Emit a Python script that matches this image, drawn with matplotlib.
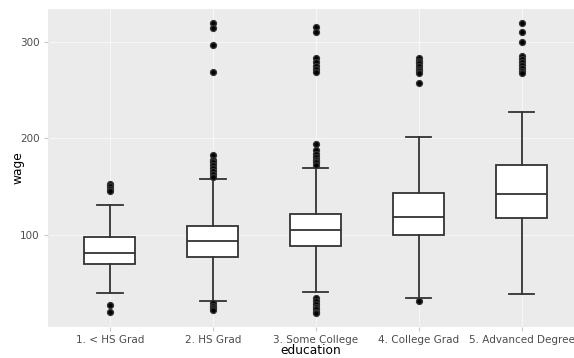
import numpy as np
import matplotlib.pyplot as plt

categories = ['1. < HS Grad', '2. HS Grad', '3. Some College', '4. College Grad', '5. Advanced Degree']

# box statistics
q1 = [70.0, 77.6, 89.0, 99.7, 117.3]
med = [81.0, 94.1, 105.2, 118.9, 142.1]
q3 = [97.6, 109.6, 121.4, 143.4, 172.1]
whislo = [40.0, 31.7, 41.4, 34.9, 38.7]
whishi = [131.0, 157.6, 169.6, 201.0, 227.5]

outliers = [
    [153.0, 151.0, 148.0, 145.0, 27.6, 20.7],
    [318.9, 314.3, 296.5, 268.2, 182.7, 178.0, 175.0, 172.0, 169.0, 166.0, 163.0, 160.3,
     29.4, 27.0, 24.5, 22.4],
    [315.4, 310.0, 282.7, 279.0, 275.0, 272.0, 268.2, 194.1, 187.9, 184.0, 181.0, 178.0,
     175.0, 172.4, 35.2, 32.0, 29.0, 26.0, 23.0, 20.0, 19.0],
    [282.7, 280.0, 277.5, 275.0, 272.0, 269.5, 267.2, 256.9, 32.0],
    [318.9, 309.6, 299.6, 285.0, 282.0, 279.0, 276.0, 273.0, 270.0, 267.2],
]

stats = []
for i in range(len(categories)):
    stats.append({'q1': q1[i], 'med': med[i], 'q3': q3[i],
                  'whislo': whislo[i], 'whishi': whishi[i],
                  'fliers': outliers[i], 'label': categories[i]})

fig = plt.figure(figsize=(5.74, 3.58), dpi=100)
ax = fig.add_axes([48 / 574, 31.3 / 358, 1 - 48 / 574, 317.7 / 358])
ax.set_facecolor('#EBEBEB')

line_col = '#333333'
ax.bxp(stats, positions=range(len(categories)), widths=0.5, patch_artist=True,
       boxprops=dict(facecolor='white', edgecolor=line_col, linewidth=1.3),
       medianprops=dict(color=line_col, linewidth=1.3),
       whiskerprops=dict(color=line_col, linewidth=1.3),
       capprops=dict(color=line_col, linewidth=1.3),
       capwidths=0.25,
       flierprops=dict(marker='o', markerfacecolor='black', markeredgecolor='#333333',
                       markersize=4.2))

ax.set_xlim(-0.6, 4.51)
ax.set_ylim(5.2, 333.6)
ax.set_yticks([100, 200, 300])
ax.set_xticks(range(len(categories)))
ax.set_xticklabels(categories)

ax.grid(True, color='#F7F7F7', linewidth=0.7)
ax.set_axisbelow(True)
for s in ax.spines.values():
    s.set_visible(False)

ax.tick_params(axis='both', colors='#C8C8C8', length=3, width=0.8, labelsize=7.5,
               labelcolor='#4D4D4D', pad=3)

ax.set_xlabel('education', fontsize=8.8, color='black', va='bottom')
ax.set_ylabel('wage', fontsize=8.8, color='black')
ax.xaxis.set_label_coords(0.5, -0.094)
ax.yaxis.set_label_coords(-0.045, 0.5)

fig.savefig('out.png', dpi=100)
